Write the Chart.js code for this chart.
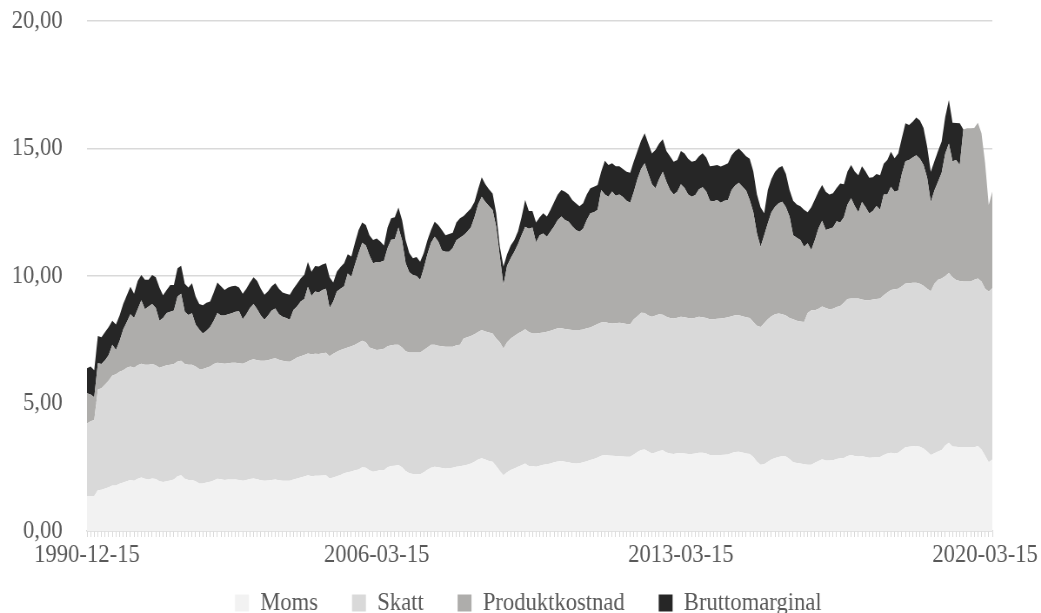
<!DOCTYPE html>
<html>
<head>
<meta charset="utf-8">
<title>Bensinpris</title>
<script src="https://cdn.jsdelivr.net/npm/chart.js@4/dist/chart.umd.min.js"></script>
<style>
    html, body { margin: 0; padding: 0; background: #fff; overflow: hidden; }
    /* the source chart uses narrow type, so the whole chart is squeezed a little sideways */
    #wrap { width: 1197px; height: 613px; transform: scaleX(0.8697); transform-origin: 0 0; }
</style>
</head>
<body>
<div id="wrap"><canvas id="chart" width="1197" height="613"></canvas></div>
<script>
/* === DATA (cumulative levels of the stack) === */
const earlyDates = ['1990-12-15', '1996-12-15', '1998-12-15'];
const tickLabels = ['1990-12-15', '2006-03-15', '2013-03-15', '2020-03-15'];
const yTicks = [0, 5, 10, 15, 20];

const momsTop = [
    1.37, 1.37, 1.37, 1.6, 1.62, 1.67, 1.72, 1.78, 1.78, 1.85,
    1.9, 1.95, 2.0, 1.97, 2.05, 2.1, 2.05, 2.02, 2.06, 2.04,
    1.95, 1.92, 1.95, 1.98, 2.02, 2.15, 2.19, 2.05, 2.0, 2.0,
    1.95, 1.86, 1.86, 1.9, 1.93, 1.98, 2.05, 2.03, 2.0, 2.02,
    2.02, 2.02, 2.0, 1.97, 2.0, 2.04, 2.06, 2.03, 1.99, 1.97,
    1.98, 2.0, 2.02, 1.99, 1.97, 1.97, 1.97, 2.02, 2.06, 2.1,
    2.14, 2.19, 2.15, 2.17, 2.17, 2.18, 2.19, 2.06, 2.1, 2.15,
    2.2, 2.26, 2.3, 2.33, 2.38, 2.41, 2.5, 2.48, 2.38, 2.32,
    2.35, 2.39, 2.38, 2.5, 2.55, 2.56, 2.59, 2.5, 2.35, 2.26,
    2.24, 2.24, 2.23, 2.3, 2.4, 2.48, 2.52, 2.5, 2.47, 2.45,
    2.46, 2.48, 2.52, 2.54, 2.57, 2.6, 2.65, 2.72, 2.8, 2.85,
    2.8, 2.75, 2.72, 2.55, 2.35, 2.19, 2.3, 2.39, 2.45, 2.52,
    2.58, 2.65, 2.55, 2.55, 2.52, 2.56, 2.6, 2.62, 2.65, 2.7,
    2.73, 2.75, 2.72, 2.7, 2.66, 2.65, 2.66, 2.7, 2.74, 2.78,
    2.82, 2.88, 2.95, 2.98, 2.96, 2.95, 2.94, 2.93, 2.92, 2.91,
    2.91, 3.0, 3.1, 3.18, 3.2, 3.12, 3.04, 3.08, 3.14, 3.17,
    3.08, 3.04, 3.02, 3.05, 3.06, 3.04, 3.02, 3.02, 3.04, 3.07,
    3.07, 3.04, 2.98, 2.98, 2.98, 2.98, 2.99, 3.0, 3.06, 3.1,
    3.11, 3.08, 3.04, 3.02, 2.9, 2.72, 2.6, 2.62, 2.72, 2.8,
    2.86, 2.9, 2.94, 2.92, 2.82, 2.7, 2.67, 2.65, 2.62, 2.6,
    2.6, 2.68, 2.75, 2.81, 2.76, 2.76, 2.77, 2.82, 2.85, 2.86,
    2.94, 2.98, 2.94, 2.92, 2.94, 2.9, 2.87, 2.88, 2.9, 2.9,
    2.98, 3.04, 3.07, 3.04, 3.07, 3.18, 3.28, 3.3, 3.32, 3.33,
    3.3, 3.24, 3.12, 2.98, 3.05, 3.12, 3.18, 3.35, 3.46, 3.31,
    3.3, 3.28, 3.28, 3.28, 3.28, 3.28, 3.33, 3.2, 2.95, 2.7,
    2.8
];

const skattTop = [
    4.22, 4.3, 4.35, 5.55, 5.6, 5.75, 5.9, 6.1, 6.15, 6.25,
    6.3, 6.4, 6.45, 6.4, 6.5, 6.56, 6.52, 6.52, 6.55, 6.5,
    6.4, 6.45, 6.5, 6.52, 6.55, 6.65, 6.68, 6.55, 6.52, 6.52,
    6.45, 6.35, 6.35, 6.4, 6.45, 6.55, 6.6, 6.58, 6.56, 6.58,
    6.6, 6.6, 6.58, 6.56, 6.62, 6.7, 6.74, 6.7, 6.68, 6.68,
    6.7, 6.75, 6.77, 6.72, 6.68, 6.65, 6.64, 6.72, 6.8, 6.85,
    6.9, 6.96, 6.93, 6.95, 6.94, 6.97, 6.99, 6.85, 6.95, 7.03,
    7.1, 7.15, 7.2, 7.25, 7.3, 7.38, 7.46, 7.4, 7.2, 7.15,
    7.1, 7.12, 7.15, 7.25, 7.28, 7.3, 7.3, 7.2, 7.05, 7.0,
    7.0, 7.0, 7.0, 7.1, 7.2, 7.3, 7.3, 7.26, 7.25, 7.23,
    7.23, 7.23, 7.28, 7.3, 7.55, 7.6, 7.65, 7.72, 7.8, 7.88,
    7.82, 7.78, 7.75, 7.55, 7.4, 7.16, 7.4, 7.55, 7.65, 7.75,
    7.82, 7.91, 7.8, 7.75, 7.75, 7.76, 7.78, 7.81, 7.85, 7.9,
    7.95, 7.95, 7.92, 7.9, 7.88, 7.88, 7.88, 7.9, 7.95, 7.98,
    8.05, 8.12, 8.18, 8.2, 8.16, 8.14, 8.15, 8.17, 8.15, 8.12,
    8.11, 8.3, 8.42, 8.56, 8.55, 8.45, 8.4, 8.45, 8.5, 8.48,
    8.4, 8.35, 8.33, 8.36, 8.4, 8.38, 8.35, 8.33, 8.36, 8.4,
    8.38, 8.35, 8.3, 8.3, 8.32, 8.33, 8.35, 8.38, 8.42, 8.46,
    8.46, 8.42, 8.38, 8.35, 8.2, 8.05, 8.0, 8.15, 8.3, 8.42,
    8.5, 8.53, 8.5, 8.45, 8.35, 8.3, 8.25, 8.22, 8.2, 8.55,
    8.66, 8.66, 8.72, 8.8, 8.75, 8.7, 8.72, 8.78, 8.82, 8.95,
    9.1, 9.12, 9.12, 9.12, 9.08, 9.05, 9.05, 9.08, 9.1, 9.12,
    9.25, 9.35, 9.45, 9.48, 9.5, 9.6, 9.71, 9.72, 9.74, 9.74,
    9.7, 9.62, 9.5, 9.4, 9.7, 9.85, 9.9, 10.0, 10.12, 9.95,
    9.84, 9.8, 9.78, 9.78, 9.78, 9.85, 9.9, 9.78, 9.5, 9.39,
    9.52
];

const produktTop = [
    5.4, 5.35, 5.25, 6.58, 6.55, 6.7, 6.9, 7.3, 7.1, 7.45,
    7.9, 8.2, 8.5, 8.35, 8.7, 9.05, 8.7, 8.8, 8.9, 8.75,
    8.25, 8.35, 8.55, 8.6, 8.65, 9.2, 9.3, 8.6, 8.47, 8.54,
    8.1, 7.9, 7.75, 7.85, 8.0, 8.25, 8.55, 8.45, 8.45, 8.5,
    8.54, 8.6, 8.62, 8.3, 8.5, 8.75, 8.9, 8.7, 8.45, 8.28,
    8.45, 8.65, 8.73, 8.5, 8.4, 8.35, 8.28, 8.67, 8.8, 9.0,
    9.1, 9.58, 9.22, 9.39, 9.35, 9.45, 9.5, 8.75, 9.0, 9.39,
    9.5, 9.6, 10.1, 9.97, 10.45, 10.9, 11.3, 11.2, 10.8, 10.5,
    10.55, 10.55, 10.6, 11.1, 11.42, 11.44, 11.9, 11.4, 10.5, 10.15,
    10.04, 10.0, 9.84, 10.3, 10.85, 11.3, 11.54, 11.35, 11.0, 10.95,
    10.95, 11.1, 11.4, 11.5, 11.6, 11.74, 11.9, 12.3, 12.8, 13.11,
    12.9, 12.75, 12.59, 11.93, 10.76, 9.65, 10.4, 10.7, 10.95, 11.25,
    11.6, 11.93, 11.85, 11.9, 11.32, 11.6, 11.67, 11.54, 11.75, 11.95,
    12.2, 12.33, 12.2, 12.13, 11.95, 11.8, 11.74, 11.85, 12.2, 12.46,
    12.5, 12.6, 13.37, 13.2, 13.11, 13.31, 13.15, 13.2, 13.1, 12.95,
    12.87, 13.3, 13.8, 14.2, 14.42, 14.0, 13.6, 13.44, 13.8, 14.09,
    13.7, 13.37, 13.2, 13.3, 13.6, 13.45, 13.2, 13.11, 13.18, 13.4,
    13.48, 13.31, 12.95, 12.93, 12.98, 12.87, 12.95, 12.98, 13.37, 13.55,
    13.66, 13.5, 13.35, 12.98, 12.5, 11.67, 11.15, 11.6, 12.07, 12.5,
    12.72, 12.85, 12.91, 12.7, 12.33, 11.6, 11.5, 11.41, 11.15, 11.28,
    11.02, 11.41, 11.87, 12.17, 11.8, 11.85, 11.9, 12.15, 12.1, 12.3,
    12.8, 13.05, 12.75, 12.5, 12.9, 12.7, 12.45, 12.55, 12.75, 12.6,
    13.2, 13.2, 13.5, 13.3, 13.35, 14.0, 14.5, 14.55, 14.65, 14.74,
    14.6, 14.35, 13.85, 12.9, 13.35, 13.7, 14.05, 14.8, 15.2, 14.5,
    14.55, 14.35, 15.75, 15.79, 15.79, 15.8, 16.01, 15.6, 14.42, 12.78,
    13.31
];

const totalTop = [
    6.38, 6.45, 6.3, 7.65, 7.6, 7.8, 8.0, 8.25, 8.1, 8.45,
    8.9, 9.25, 9.58, 9.3, 9.8, 10.04, 9.85, 9.85, 10.04, 9.95,
    9.55, 9.25, 9.45, 9.65, 9.65, 10.3, 10.4, 9.7, 9.55, 9.72,
    9.2, 8.9, 8.85, 8.95, 9.0, 9.35, 9.75, 9.6, 9.45, 9.55,
    9.6, 9.62, 9.55, 9.3, 9.5, 9.75, 9.95, 9.8, 9.5, 9.26,
    9.4, 9.6, 9.72, 9.5, 9.35, 9.3, 9.26, 9.5, 9.7, 9.9,
    10.05, 10.55, 10.17, 10.39, 10.37, 10.45, 10.5, 9.95, 9.75, 10.17,
    10.35, 10.5, 10.85, 10.76, 11.3, 11.8, 12.1, 12.0, 11.6, 11.41,
    11.47, 11.35, 11.2, 11.9, 12.26, 12.3, 12.69, 12.2, 11.4, 10.9,
    10.7, 10.75, 10.56, 10.9, 11.4, 11.8, 12.13, 12.0, 11.8, 11.6,
    11.65, 11.7, 12.1, 12.26, 12.35, 12.5, 12.65, 12.9, 13.4, 13.87,
    13.6, 13.4, 13.24, 12.46, 11.15, 10.37, 10.85, 11.2, 11.41, 11.75,
    12.3, 12.98, 12.55, 12.55, 12.1, 12.3, 12.46, 12.33, 12.6, 12.9,
    13.2, 13.37, 13.3, 13.2, 12.98, 12.85, 12.74, 12.85, 13.2, 13.44,
    13.5, 13.57, 14.1, 14.52, 14.35, 14.42, 14.3, 14.3, 14.2, 14.09,
    14.05, 14.5, 14.9, 15.3, 15.6, 15.2, 14.8, 14.95, 15.2, 15.36,
    14.9, 14.7, 14.48, 14.55, 14.9, 14.8, 14.6, 14.48, 14.52, 14.7,
    14.81, 14.65, 14.3, 14.32, 14.35, 14.29, 14.35, 14.42, 14.74, 14.9,
    15.0, 14.85, 14.7, 14.6, 14.1, 13.2, 12.7, 12.46, 13.37, 13.8,
    14.09, 14.25, 14.31, 14.0, 13.37, 12.95, 12.8, 12.74, 12.6, 12.5,
    12.7, 13.0, 13.31, 13.57, 13.3, 13.2, 13.25, 13.45, 13.63, 13.6,
    14.1, 14.35, 14.1, 13.95, 14.3, 14.1, 13.85, 13.87, 14.0, 13.95,
    14.4, 14.55, 14.87, 14.62, 14.8, 15.4, 15.99, 15.92, 16.05, 16.22,
    16.1, 15.8, 15.07, 14.09, 14.5, 14.9, 15.27, 16.25, 16.9, 16.01,
    16.0, 15.99, 15.75, 15.79, 15.79, 15.8, 16.01, 15.6, 14.42, 12.78,
    13.31
];

/* === CATEGORIES (a few early points, then monthly) === */
function monthlyDates(year, month, count) {
    const out = [];
    for (let i = 0; i < count; i++) {
        out.push(year + '-' + String(month).padStart(2, '0') + '-15');
        month++;
        if (month > 12) { month = 1; year++; }
    }
    return out;
}
const categories = earlyDates.concat(monthlyDates(1999, 10, 248));

/* each stacked band is the gap between two read levels */
function band(top, below) {
    return top.map((v, i) => +(v - (below ? below[i] : 0)).toFixed(2));
}

const TEXT = '#595959';
const FONT = { family: "'Liberation Serif', 'Times New Roman', serif", size: 26 };

/* === CHART === */
document.addEventListener('DOMContentLoaded', function() {
    const series = [
        { label: 'Moms', data: band(momsTop), color: '#f2f2f2' },
        { label: 'Skatt', data: band(skattTop, momsTop), color: '#d9d9d9' },
        { label: 'Produktkostnad', data: band(produktTop, skattTop), color: '#aeadab' },
        { label: 'Bruttomarginal', data: band(totalTop, produktTop), color: '#262626' }
    ];

    new Chart(document.getElementById('chart'), {
        type: 'line',
        data: {
            labels: categories,
            datasets: series.map((s, i) => ({
                label: s.label,
                data: s.data,
                backgroundColor: s.color,
                borderColor: s.color,
                borderWidth: 0,
                pointRadius: 0,
                tension: 0,
                fill: i === 0 ? 'origin' : '-1'
            }))
        },
        options: {
            responsive: false,
            animation: false,
            devicePixelRatio: 1,
            layout: { padding: { left: 0, right: 56, top: 21, bottom: 0 } },
            plugins: {
                tooltip: { enabled: false },
                legend: {
                    position: 'bottom',
                    fullSize: false,
                    maxHeight: 36,
                    labels: {
                        color: TEXT,
                        font: FONT,
                        boxWidth: 16,
                        boxHeight: 17,
                        padding: 13,
                        // an em space after each name gives the wide gaps between items
                        generateLabels: chart => Chart.defaults.plugins.legend.labels.generateLabels(chart)
                            .map(item => Object.assign(item, { text: item.text + '\u2003' }))
                    }
                }
            },
            scales: {
                x: {
                    afterFit: scale => { scale.height = 46; },
                    grid: { drawOnChartArea: false, drawTicks: true, tickLength: 6, color: '#d9d9d9', lineWidth: 1 },
                    border: { color: '#d9d9d9', width: 1.5 },
                    ticks: {
                        autoSkip: false,
                        maxRotation: 0,
                        minRotation: 0,
                        padding: 3,
                        color: TEXT,
                        font: FONT,
                        callback: function(value) {
                            const lbl = this.getLabelForValue(value);
                            return tickLabels.includes(lbl) ? lbl : '';
                        }
                    }
                },
                y: {
                    stacked: true,
                    min: yTicks[0],
                    max: yTicks[yTicks.length - 1],
                    afterFit: scale => { scale.width = 100; },
                    afterBuildTicks: scale => { scale.ticks = yTicks.map(v => ({ value: v })); },
                    grid: { color: '#d9d9d9', lineWidth: 1.5, drawTicks: true, tickLength: 28, tickColor: 'rgba(0,0,0,0)' },
                    border: { display: false },
                    ticks: {
                        padding: 0,
                        color: TEXT,
                        font: FONT,
                        callback: v => v.toFixed(2).replace('.', ',')
                    }
                }
            }
        }
    });
});
</script>
</body>
</html>
